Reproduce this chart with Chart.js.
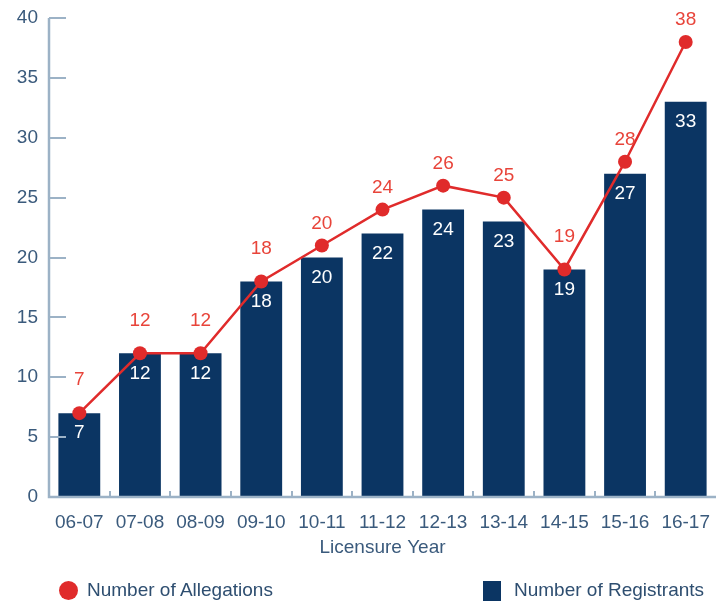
<!DOCTYPE html>
<html><head><meta charset="utf-8">
<script src="https://cdn.jsdelivr.net/npm/chart.js@4"></script>
<style>
html,body{margin:0;padding:0;background:#fff;}
#wrap{position:relative;width:723px;height:601px;overflow:hidden;}
canvas{position:absolute;left:0;top:0;}
.lg{position:absolute;font-family:"Liberation Sans",Arial,sans-serif;font-size:19px;color:#2e4e70;line-height:20px;white-space:nowrap;}
.sw{position:absolute;}
</style></head>
<body>
<div id="wrap">
<canvas id="c" width="723" height="601"></canvas>
<div class="sw" style="left:59px;top:581px;width:19px;height:19px;border-radius:50%;background:#e02b2b;"></div>
<div class="lg" style="left:87px;top:580px;">Number of Allegations</div>
<div class="sw" style="left:483px;top:581px;width:18px;height:20px;background:#0b3563;"></div>
<div class="lg" style="left:514px;top:580px;">Number of Registrants</div>
</div>
<script>
const categories = ["06-07","07-08","08-09","09-10","10-11","11-12","12-13","13-14","14-15","15-16","16-17"];
const allegations = [7,12,12,18,21,24,26,25,19,28,38];
const allegationLabels = [7,12,12,18,20,24,26,25,19,28,38];
const registrants = [7,12,12,18,20,22,24,23,19,27,33];
const yTicks = [0,5,10,15,20,25,30,35,40];

const AXIS = '#9cb2c6';
const TXT = '#3a5a7c';
const FONT = '"Liberation Sans", Arial, sans-serif';

const decor = {
  id:'decor',
  afterDatasetsDraw(chart){
    const ctx = chart.ctx, x = chart.scales.x, y = chart.scales.y, ca = chart.chartArea;
    ctx.save();
    ctx.strokeStyle = AXIS; ctx.lineWidth = 2;
    yTicks.forEach(v=>{ if(v===0) return; const py = Math.round(y.getPixelForValue(v));
      ctx.beginPath(); ctx.moveTo(ca.left, py); ctx.lineTo(ca.left+17, py); ctx.stroke(); });
    for(let i=0;i<categories.length-1;i++){
      const px = Math.round((x.getPixelForValue(i)+x.getPixelForValue(i+1))/2);
      ctx.beginPath(); ctx.moveTo(px, ca.bottom); ctx.lineTo(px, ca.bottom-6); ctx.stroke();
    }
    ctx.lineWidth = 2.5;
    ctx.beginPath(); ctx.moveTo(ca.left, ca.top); ctx.lineTo(ca.left, ca.bottom); ctx.lineTo(ca.right, ca.bottom); ctx.stroke();
    ctx.restore();
  },
  afterDraw(chart){
    const ctx = chart.ctx;
    ctx.save();
    ctx.font = '19px ' + FONT;
    ctx.textAlign = 'center'; ctx.textBaseline = 'middle';
    const barMeta = chart.getDatasetMeta(1);
    ctx.fillStyle = '#ffffff';
    barMeta.data.forEach((b,i)=>{ ctx.fillText(String(registrants[i]), b.x, b.y+20); });
    const lineMeta = chart.getDatasetMeta(0);
    ctx.fillStyle = '#e8443a';
    lineMeta.data.forEach((p,i)=>{
      const off = (allegations[i]===registrants[i]) ? 33 : 22;
      ctx.fillText(String(allegationLabels[i]), p.x, p.y-off);
    });
    ctx.restore();
  }
};

new Chart(document.getElementById('c'), {
  data:{
    labels: categories,
    datasets:[
      {type:'line', label:'Number of Allegations', data: allegations, order:0,
       borderColor:'#e02b2b', backgroundColor:'#e02b2b', borderWidth:2.5,
       pointRadius:7, pointHoverRadius:7, pointBackgroundColor:'#e02b2b', pointBorderWidth:0, tension:0},
      {type:'bar', label:'Number of Registrants', data: registrants, order:1,
       backgroundColor:'#0b3563', barPercentage:0.69, categoryPercentage:1.0}
    ]
  },
  options:{
    responsive:false, animation:false, devicePixelRatio:1,
    layout:{padding:{left:0,right:6,top:18,bottom:42}},
    plugins:{legend:{display:false}, tooltip:{enabled:false}},
    scales:{
      x:{
        grid:{display:false, drawTicks:false}, border:{display:false},
        ticks:{color:TXT, font:{family:FONT,size:19}, padding:14, maxRotation:0, autoSkip:false},
        title:{display:true, text:'Licensure Year', color:TXT, font:{family:FONT,size:19}, padding:{top:0,bottom:0}},
        afterFit(s){ s.height = 62; s.paddingLeft = 0; s.paddingRight = 0; }
      },
      y:{
        min:0, max:40,
        grid:{display:false, drawTicks:false}, border:{display:false},
        ticks:{stepSize:5, color:TXT, font:{family:FONT,size:19}, padding:11},
        afterFit(s){ s.width = 49; s.paddingTop = 0; s.paddingBottom = 0; }
      }
    }
  },
  plugins:[decor]
});
</script>
</body></html>
